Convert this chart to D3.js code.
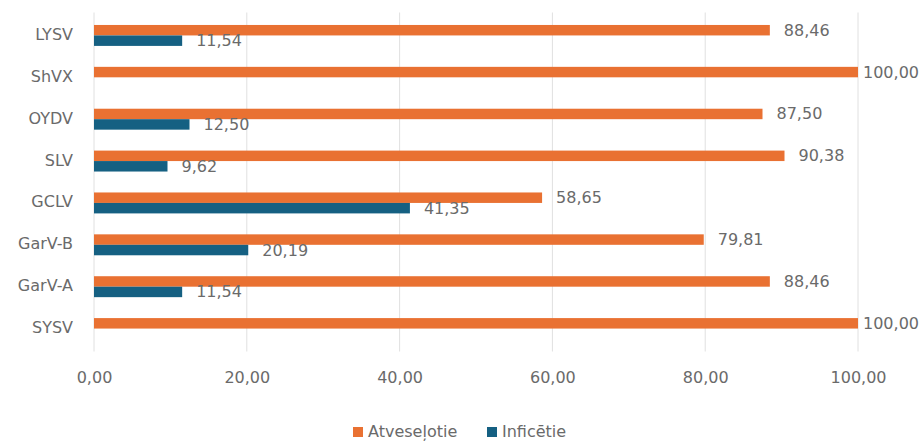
<!DOCTYPE html>
<html>
<head>
<meta charset="utf-8">
<script src="https://cdn.jsdelivr.net/npm/d3@7"></script>
<style>
  html, body { margin: 0; padding: 0; background: #fff; }
  svg { display: block; }
  text { font-family: "DejaVu Sans", sans-serif; fill: #6a6a6a; }
</style>
</head>
<body>
<svg id="chart" width="921" height="443"></svg>
<script>
const categories = ["LYSV", "ShVX", "OYDV", "SLV", "GCLV", "GarV-B", "GarV-A", "SYSV"];
const seriesNames = ["Atveseļotie", "Inficētie"];
const recovered = [88.46, 100.00, 87.50, 90.38, 58.65, 79.81, 88.46, 100.00];
const infected  = [11.54, 0, 12.50, 9.62, 41.35, 20.19, 11.54, 0];
const tickValues = [0, 20, 40, 60, 80, 100];
const colors = ["#E97132", "#156082"];

const svg = d3.select("#chart");
const plotLeft = 94, plotRight = 858, plotTop = 14.5, plotBottom = 349.5;

const x = d3.scaleLinear().domain([0, 100]).range([plotLeft, plotRight]);
const y = d3.scaleBand().domain(categories).range([plotTop, plotBottom]).paddingInner(0.5).paddingOuter(0.25);
const ySub = d3.scaleBand().domain(seriesNames).range([0, y.bandwidth()]);

const fmt = v => d3.format(".2f")(v).replace(".", ",");

// gridlines
svg.append("g").selectAll("line").data(tickValues).join("line")
  .attr("x1", d => x(d)).attr("x2", d => x(d))
  .attr("y1", plotTop - 2).attr("y2", plotBottom + 2)
  .attr("stroke", "#e0e0e0").attr("stroke-width", 1);

// x tick labels
const xAxis = d3.axisBottom(x).tickValues(tickValues).tickFormat(fmt).tickSize(0).tickPadding(0);
const gx = svg.append("g").attr("transform", `translate(0,${plotBottom})`).call(xAxis);
gx.select(".domain").remove();
gx.selectAll("text").attr("dy", null).attr("y", 29).attr("dominant-baseline", "middle")
  .style("font-size", "16px").style("font-family", "DejaVu Sans, sans-serif").attr("fill", "#6a6a6a");

// y category labels
const yAxis = d3.axisLeft(y).tickSize(0).tickPadding(0);
const gy = svg.append("g").attr("transform", `translate(${plotLeft - 21},0)`).call(yAxis);
gy.select(".domain").remove();
gy.selectAll("text").attr("dy", null).attr("dominant-baseline", "middle")
  .style("font-size", "16px").style("font-family", "DejaVu Sans, sans-serif").attr("fill", "#6a6a6a");

const seriesData = [recovered, infected];
seriesNames.forEach((name, si) => {
  const data = categories.map((c, i) => ({ c, v: seriesData[si][i] })).filter(d => d.v > 0);
  const g = svg.append("g");
  g.selectAll("rect").data(data).join("rect")
    .attr("x", x(0))
    .attr("y", d => y(d.c) + ySub(name))
    .attr("width", d => x(d.v) - x(0))
    .attr("height", ySub.bandwidth())
    .attr("fill", colors[si]);
  g.selectAll("text").data(data).join("text")
    .attr("x", d => Math.min(x(d.v) + 14, 863))
    .attr("y", d => y(d.c) + ySub(name) + ySub.bandwidth() / 2 + 1)
    .attr("dominant-baseline", "middle")
    .style("font-size", "16px")
    .text(d => fmt(d.v));
});

// legend
const legend = svg.append("g");
const legendX = [353, 487];
seriesNames.forEach((name, si) => {
  legend.append("rect").attr("x", legendX[si]).attr("y", 427).attr("width", 10).attr("height", 10).attr("fill", colors[si]);
  legend.append("text").attr("x", legendX[si] + 15).attr("y", 432.5)
    .attr("dominant-baseline", "middle").style("font-size", "16px").text(name);
});
</script>
</body>
</html>
